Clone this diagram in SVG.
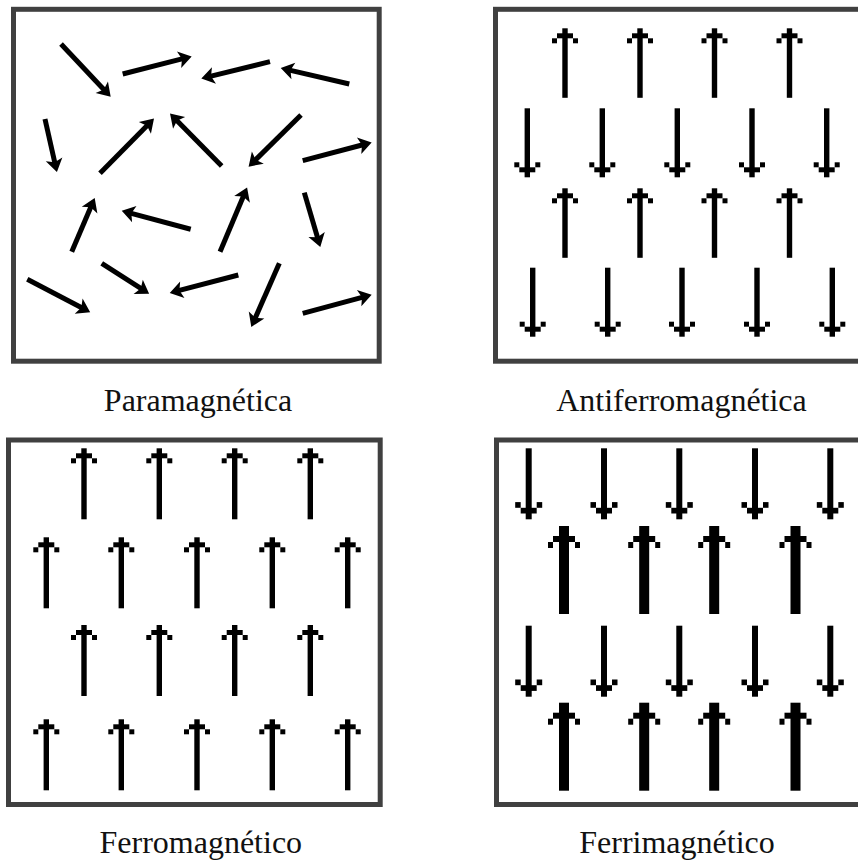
<svg xmlns="http://www.w3.org/2000/svg" xmlns:xlink="http://www.w3.org/1999/xlink" width="858" height="861" viewBox="0 0 858 861">
<style>
.frame{fill:none;stroke:#404040;stroke-width:5}
.lbl{font-family:"Liberation Serif","Times New Roman",serif;font-size:32px;fill:#111;text-anchor:middle}
.ar{fill:#000}
.sh{stroke:#000;stroke-width:5;stroke-linecap:butt}
</style>
<defs>
<g id="upA" class="ar">
<rect x="-2.7" y="0" width="5.4" height="69.5"/>
<rect x="-8" y="5" width="16" height="5"/>
<rect x="-13" y="10" width="5" height="5"/>
<rect x="8" y="10" width="5" height="5"/>
</g>
<g id="upF" class="ar">
<rect x="-2.7" y="0" width="5.4" height="71"/>
<rect x="-8" y="5" width="16" height="5"/>
<rect x="-13" y="10" width="5" height="5"/>
<rect x="8" y="10" width="5" height="5"/>
</g>
<g id="downA" class="ar">
<rect x="-2.7" y="-69" width="5.4" height="69"/>
<rect x="-8" y="-10" width="16" height="5"/>
<rect x="-13" y="-15" width="5" height="5"/>
<rect x="8" y="-15" width="5" height="5"/>
</g>
<g id="downF" class="ar">
<rect x="-3" y="-71" width="6" height="71"/>
<rect x="-8" y="-11.5" width="16" height="5.7"/>
<rect x="-13.5" y="-17.2" width="5.5" height="5.7"/>
<rect x="8" y="-17.2" width="5.5" height="5.7"/>
</g>
<g id="upT" class="ar">
<rect x="-5" y="0" width="10" height="88"/>
<rect x="-11" y="10" width="22" height="6"/>
<rect x="-16" y="16" width="5" height="6"/>
<rect x="11" y="16" width="5" height="6"/>
</g>
<path id="head" d="M1,0 L-12,-8.5 L-9,0 L-12,8.5 Z"/>
</defs>

<g id="paramagnetica">
<rect class="frame" x="13.5" y="9.3" width="365.7" height="351.9"/>
<g id="para-arrows">
<g transform="translate(110,96) rotate(46.7)"><line class="sh" x1="-71.4" y1="0" x2="-8" y2="0"/><use xlink:href="#head"/></g>
<g transform="translate(190.7,56.7) rotate(-14.3)"><line class="sh" x1="-70.2" y1="0" x2="-8" y2="0"/><use xlink:href="#head"/></g>
<g transform="translate(202.3,78.3) rotate(166.2)"><line class="sh" x1="-69.7" y1="0" x2="-8" y2="0"/><use xlink:href="#head"/></g>
<g transform="translate(281.7,68.3) rotate(193.1)"><line class="sh" x1="-69.4" y1="0" x2="-8" y2="0"/><use xlink:href="#head"/></g>
<g transform="translate(56.7,171) rotate(77.3)"><line class="sh" x1="-53.3" y1="0" x2="-8" y2="0"/><use xlink:href="#head"/></g>
<g transform="translate(153.3,119.3) rotate(-45.4)"><line class="sh" x1="-75.9" y1="0" x2="-8" y2="0"/><use xlink:href="#head"/></g>
<g transform="translate(170.7,114.3) rotate(-134.6)"><line class="sh" x1="-72.6" y1="0" x2="-8" y2="0"/><use xlink:href="#head"/></g>
<g transform="translate(249.3,166) rotate(135.4)"><line class="sh" x1="-72.6" y1="0" x2="-8" y2="0"/><use xlink:href="#head"/></g>
<g transform="translate(370.7,142.7) rotate(-14.8)"><line class="sh" x1="-70.3" y1="0" x2="-8" y2="0"/><use xlink:href="#head"/></g>
<g transform="translate(94.3,199) rotate(-66.8)"><line class="sh" x1="-57.3" y1="0" x2="-8" y2="0"/><use xlink:href="#head"/></g>
<g transform="translate(122.7,211) rotate(195)"><line class="sh" x1="-70.4" y1="0" x2="-8" y2="0"/><use xlink:href="#head"/></g>
<g transform="translate(246.7,188.3) rotate(-67.2)"><line class="sh" x1="-68.8" y1="0" x2="-8" y2="0"/><use xlink:href="#head"/></g>
<g transform="translate(320,246) rotate(73.6)"><line class="sh" x1="-55.6" y1="0" x2="-8" y2="0"/><use xlink:href="#head"/></g>
<g transform="translate(89.3,311.7) rotate(27.6)"><line class="sh" x1="-70" y1="0" x2="-8" y2="0"/><use xlink:href="#head"/></g>
<g transform="translate(148.3,293.3) rotate(32.8)"><line class="sh" x1="-55.4" y1="0" x2="-8" y2="0"/><use xlink:href="#head"/></g>
<g transform="translate(170.7,292.7) rotate(165.3)"><line class="sh" x1="-69.9" y1="0" x2="-8" y2="0"/><use xlink:href="#head"/></g>
<g transform="translate(251.7,326) rotate(113.8)"><line class="sh" x1="-68.5" y1="0" x2="-8" y2="0"/><use xlink:href="#head"/></g>
<g transform="translate(370.7,295) rotate(-15.1)"><line class="sh" x1="-70.4" y1="0" x2="-8" y2="0"/><use xlink:href="#head"/></g>
</g>
<text class="lbl" x="198" y="410.5">Paramagnética</text>
</g>

<g id="antiferromagnetica">
<rect class="frame" x="495.5" y="9.3" width="366" height="351.9"/>
<use xlink:href="#upA" x="565" y="28.3"/>
<use xlink:href="#upA" x="640" y="28.3"/>
<use xlink:href="#upA" x="714.5" y="28.3"/>
<use xlink:href="#upA" x="789.5" y="28.3"/>
<use xlink:href="#downA" x="527.3" y="177.3"/>
<use xlink:href="#downA" x="602.3" y="177.3"/>
<use xlink:href="#downA" x="677.3" y="177.3"/>
<use xlink:href="#downA" x="752" y="177.3"/>
<use xlink:href="#downA" x="826.7" y="177.3"/>
<use xlink:href="#upA" x="565" y="188.3"/>
<use xlink:href="#upA" x="640" y="188.3"/>
<use xlink:href="#upA" x="714.5" y="188.3"/>
<use xlink:href="#upA" x="789.5" y="188.3"/>
<use xlink:href="#downA" x="532.7" y="336.7"/>
<use xlink:href="#downA" x="607.7" y="336.7"/>
<use xlink:href="#downA" x="682" y="336.7"/>
<use xlink:href="#downA" x="757" y="336.7"/>
<use xlink:href="#downA" x="832.3" y="336.7"/>
<text class="lbl" x="681.5" y="410.5">Antiferromagnética</text>
</g>

<g id="ferromagnetico">
<rect class="frame" x="8.5" y="440" width="371.7" height="364.5"/>
<use xlink:href="#upF" x="84" y="448.3"/>
<use xlink:href="#upF" x="159.3" y="448.3"/>
<use xlink:href="#upF" x="234.7" y="448.3"/>
<use xlink:href="#upF" x="310.3" y="448.3"/>
<use xlink:href="#upF" x="46.3" y="537.3"/>
<use xlink:href="#upF" x="121.3" y="537.3"/>
<use xlink:href="#upF" x="197" y="537.3"/>
<use xlink:href="#upF" x="272.3" y="537.3"/>
<use xlink:href="#upF" x="347.7" y="537.3"/>
<use xlink:href="#upF" x="84" y="625"/>
<use xlink:href="#upF" x="159.3" y="625"/>
<use xlink:href="#upF" x="234.7" y="625"/>
<use xlink:href="#upF" x="310.3" y="625"/>
<use xlink:href="#upF" x="46.3" y="719.3"/>
<use xlink:href="#upF" x="121.3" y="719.3"/>
<use xlink:href="#upF" x="197" y="719.3"/>
<use xlink:href="#upF" x="272.3" y="719.3"/>
<use xlink:href="#upF" x="347.7" y="719.3"/>
<text class="lbl" x="200.8" y="853">Ferromagnético</text>
</g>

<g id="ferrimagnetico">
<rect class="frame" x="496.5" y="440" width="366" height="364.5"/>
<use xlink:href="#downF" x="528.7" y="519.3"/>
<use xlink:href="#downF" x="604" y="519.3"/>
<use xlink:href="#downF" x="679.3" y="519.3"/>
<use xlink:href="#downF" x="755" y="519.3"/>
<use xlink:href="#downF" x="830.3" y="519.3"/>
<use xlink:href="#upT" x="564" y="526"/>
<use xlink:href="#upT" x="644.2" y="526"/>
<use xlink:href="#upT" x="714.2" y="526"/>
<use xlink:href="#upT" x="795.5" y="526"/>
<use xlink:href="#downF" x="528.7" y="696.7"/>
<use xlink:href="#downF" x="604" y="696.7"/>
<use xlink:href="#downF" x="679.3" y="696.7"/>
<use xlink:href="#downF" x="755" y="696.7"/>
<use xlink:href="#downF" x="830.3" y="696.7"/>
<use xlink:href="#upT" x="564" y="702.7"/>
<use xlink:href="#upT" x="644.2" y="702.7"/>
<use xlink:href="#upT" x="714.2" y="702.7"/>
<use xlink:href="#upT" x="795.5" y="702.7"/>
<text class="lbl" x="677" y="853">Ferrimagnético</text>
</g>
</svg>
